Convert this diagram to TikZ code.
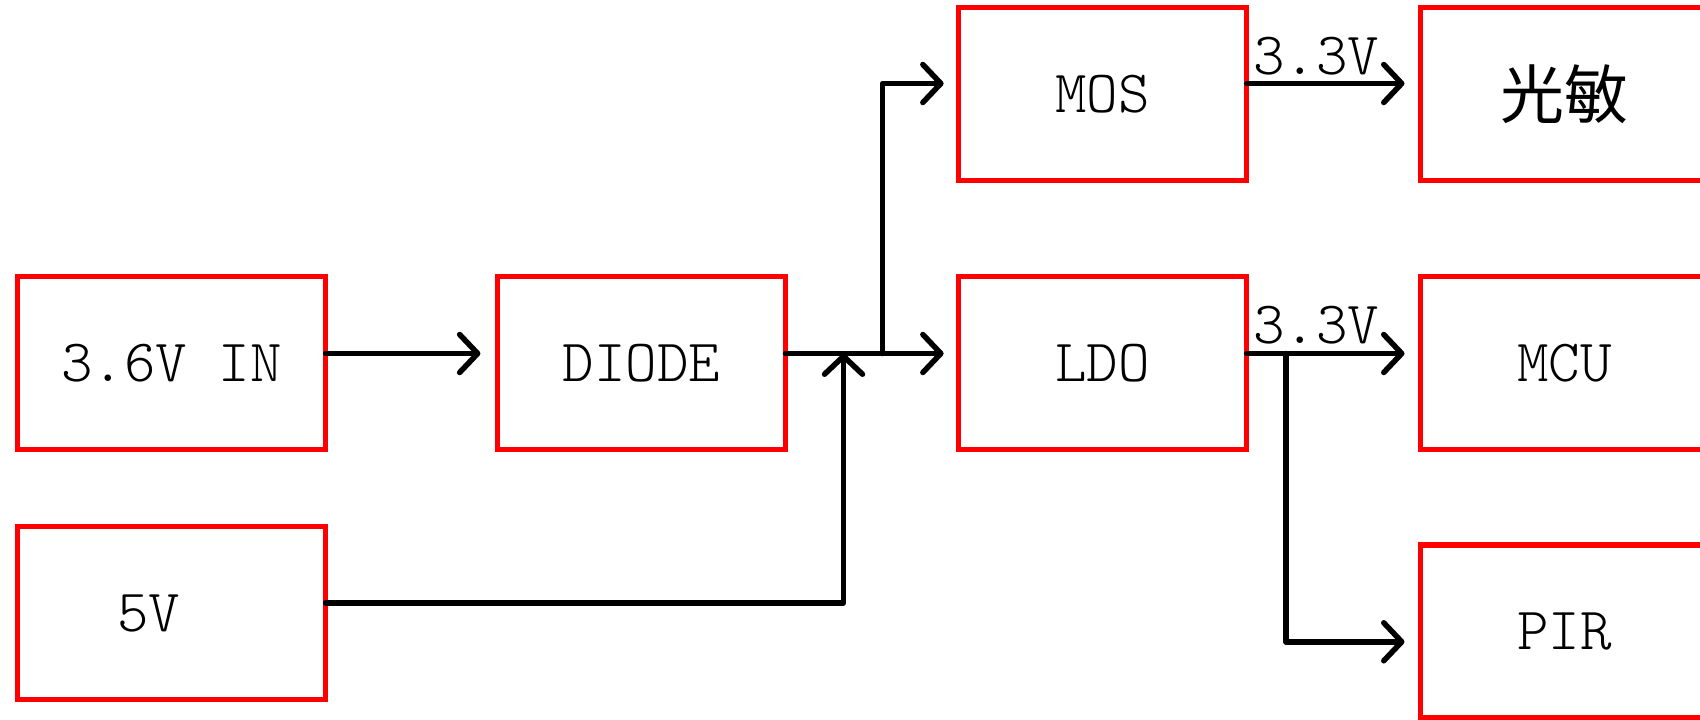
\documentclass[tikz,border=0pt]{standalone}
\usepackage{fontspec}
\setmainfont{Latin Modern Mono Light}
\newfontfamily\cjk{Noto Sans CJK SC}
\usetikzlibrary{arrows.meta,calc}
\begin{document}
\begin{tikzpicture}[x=1pt,y=-1pt,
  blk/.style={draw=red, line width=5.5pt, minimum height=173pt, outer sep=0pt, inner sep=0pt, font=\fontsize{60}{66}\selectfont},
  wide/.style={blk, minimum width=308pt},
  narrow/.style={blk, minimum width=288pt},
  conn/.style={line width=5.5pt, line cap=round, line join=round},
  tip/.style={-{Straight Barb[length=18pt,width=38pt,round]}},
  lbl/.style={font=\fontsize{60}{66}\selectfont, inner sep=0pt}
]
\useasboundingbox (0,0) rectangle (1700,720);
\clip (0,0) rectangle (1700,720);
\fill[white] (0,0) rectangle (1700,720);
% boxes
\node[wide] (in) at (171.5,363) {3.6V IN};
\node[wide] (v5) at (171.5,613) {\hspace*{-46pt}5V};
\node[narrow] (diode) at (641.4,363) {DIODE};
\node[narrow] (mos) at (1102.6,94) {MOS};
\node[narrow] (ldo) at (1102.6,363) {LDO};
\node[narrow, font=\cjk\fontsize{64}{70}\selectfont] (light) at (1564.5,94) {光敏};
\node[narrow] (mcu) at (1564.5,363) {MCU};
\node[narrow] (pir) at (1564.5,631.5) {PIR};
% junctions
\coordinate (j1) at (843.5,353.5);
\coordinate (j2) at (882.5,353.5);
\coordinate (j3) at (1285.9,353.5);
% connectors
\draw[conn,tip] ([yshift=9.5pt]in.east) -- ([yshift=9.5pt,xshift=-17pt]diode.west);
\draw[conn,tip] ([yshift=9.5pt]diode.east) -- ([yshift=9.5pt,xshift=-15pt]ldo.west);
\draw[conn,tip] (j2) |- ([yshift=10.5pt,xshift=-15pt]mos.west);
\draw[conn,tip] ([yshift=10.2pt]v5.east) -| (j1);
\draw[conn,tip] ([yshift=10.5pt]mos.east) -- ([yshift=10.5pt,xshift=-16pt]light.west);
\draw[conn,tip] ([yshift=9.5pt]ldo.east) -- ([yshift=9.5pt,xshift=-16pt]mcu.west);
\draw[conn,tip] (j3) |- ([yshift=-10.3pt,xshift=-16pt]pir.west);
% labels
\node[lbl] (l1) at (1316,56) {3.3V};
\node[lbl] (l2) at (1316,325) {3.3V};
\end{tikzpicture}
\end{document}
